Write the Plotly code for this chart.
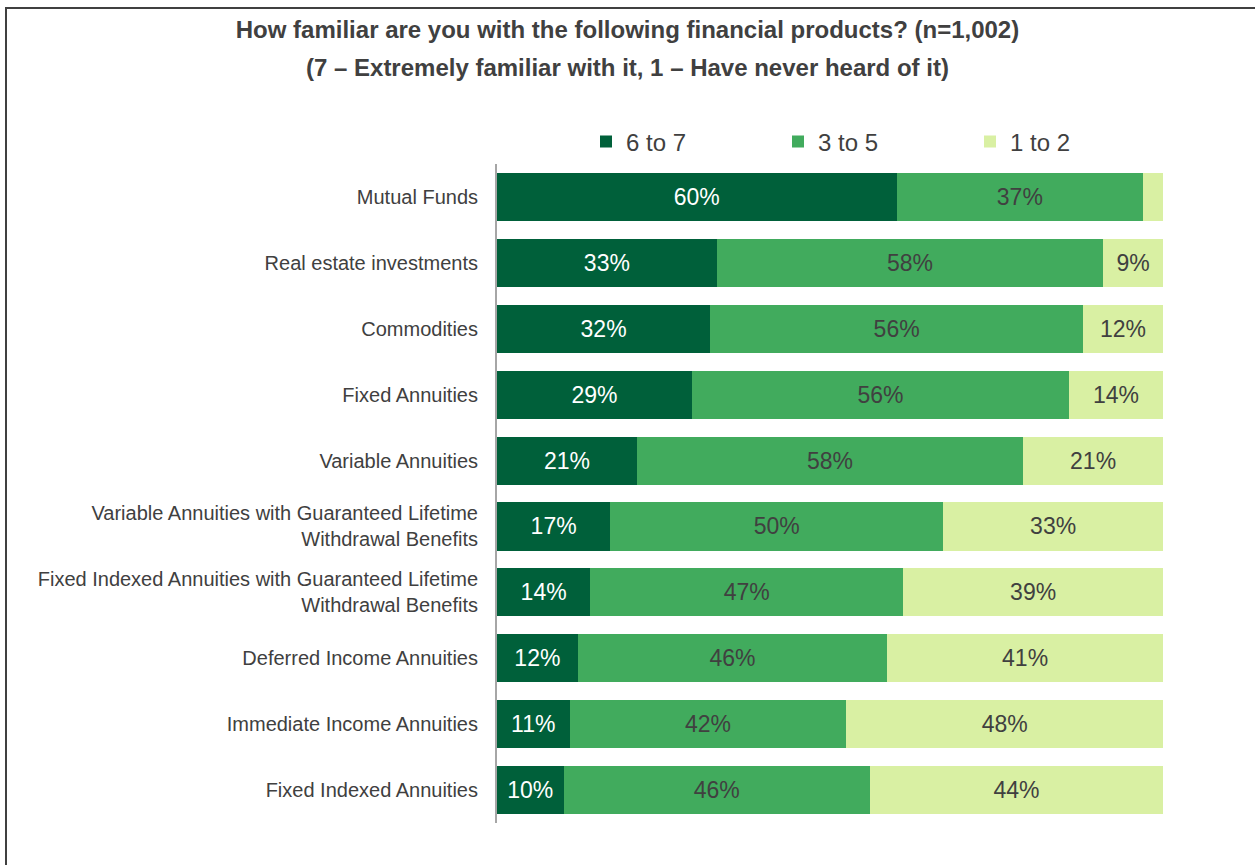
import plotly.graph_objects as go

categories = [
    "Mutual Funds",
    "Real estate investments",
    "Commodities",
    "Fixed Annuities",
    "Variable Annuities",
    "Variable Annuities with Guaranteed Lifetime<br>Withdrawal Benefits",
    "Fixed Indexed Annuities with Guaranteed Lifetime<br>Withdrawal Benefits",
    "Deferred Income Annuities",
    "Immediate Income Annuities",
    "Fixed Indexed Annuities",
]
high_6_7 = [60, 33, 32, 29, 21, 17, 14, 12, 11, 10]
mid_3_5 = [37, 58, 56, 56, 58, 50, 47, 46, 42, 46]
low_1_2 = [3, 9, 12, 14, 21, 33, 39, 41, 48, 44]
series_names = ["6 to 7", "3 to 5", "1 to 2"]
colors = ["#00603A", "#41AB5D", "#D9F0A3"]
text_colors = ["#FFFFFF", "#404040", "#404040"]

W, H = 1255, 865
ML, MR, MT, MB = 497, W - 1163, 164, H - 823

fig = go.Figure()
for name, vals, col, tcol in zip(series_names, [high_6_7, mid_3_5, low_1_2], colors, text_colors):
    fig.add_trace(go.Bar(
        y=categories, x=vals, name=name, orientation="h",
        marker=dict(color=col, line=dict(width=0)),
        text=[f"{v}%" if v >= 5 else "" for v in vals],
        textposition="inside", insidetextanchor="middle",
        textfont=dict(family="Liberation Sans, Arial", size=23, color=tcol),
        constraintext="none",
        hoverinfo="skip",
    ))

pw = W - ML - MR
ph = H - MT - MB
def px_x(p):
    return (p - ML) / pw
def px_y(p):
    return (H - MB - p) / ph

fig.update_layout(
    width=W, height=H,
    barmode="stack", barnorm="percent", bargap=0.27,
    margin=dict(l=ML, r=MR, t=MT, b=MB, autoexpand=False),
    paper_bgcolor="white", plot_bgcolor="white",
    font=dict(family="Liberation Sans, Arial", color="#404040"),
    title=dict(
        text="<b>How familiar are you with the following financial products? (n=1,002)</b>",
        x=0.5, xref="container", xanchor="center",
        y=1 - 30 / H, yref="container", yanchor="middle",
        font=dict(size=24, color="#404040"),
    ),
    annotations=[dict(
        text="<b>(7 – Extremely familiar with it, 1 – Have never heard of it)</b>",
        xref="paper", yref="paper", x=px_x(W / 2), y=px_y(68),
        xanchor="center", yanchor="middle", showarrow=False,
        font=dict(size=24, color="#404040"),
    )],
    legend=dict(
        orientation="h", x=px_x(586), y=px_y(142), xanchor="left", yanchor="middle",
        font=dict(size=24, color="#404040"), itemwidth=30,
        entrywidth=147, traceorder="normal", bgcolor="rgba(0,0,0,0)",
    ),
    xaxis=dict(range=[0, 100], visible=False, fixedrange=True),
    yaxis=dict(
        autorange="reversed", showgrid=False, ticks="", ticklen=0,
        showline=True, linecolor="#A6A6A6", linewidth=2,
        tickfont=dict(size=20, color="#404040"), ticklabelstandoff=13,
    ),
)

frame_js = """
document.body.style.margin='0';
document.body.style.overflow='hidden';
var f=document.createElement('div');
f.style.position='absolute';f.style.left='5px';f.style.top='7px';
f.style.width='1400px';f.style.height='1000px';
f.style.borderLeft='2.5px solid #404040';f.style.borderTop='2.5px solid #404040';
f.style.pointerEvents='none';f.style.zIndex='1000';
document.body.appendChild(f);
"""

fig.write_html(
    "out.html",
    config={"displayModeBar": False},
    post_script=frame_js,
)
